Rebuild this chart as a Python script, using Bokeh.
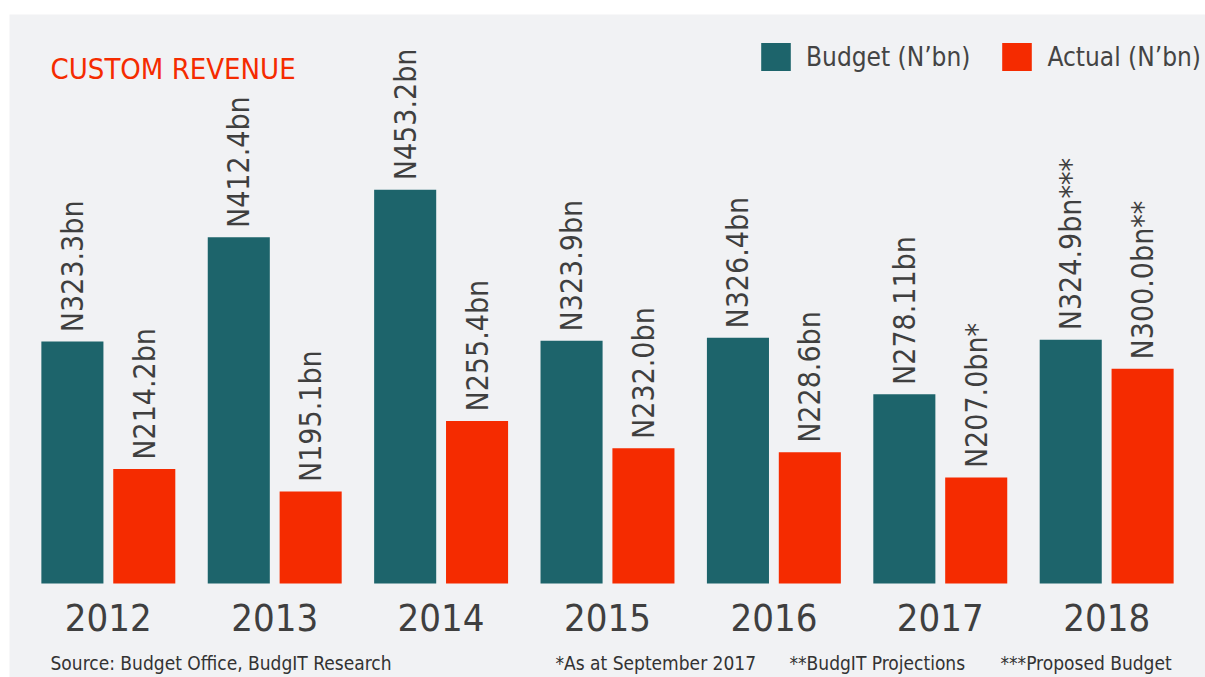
from bokeh.plotting import figure
from bokeh.models import ColumnDataSource, FactorRange, Range1d, Legend, LegendItem, Label
from bokeh.transform import dodge
from bokeh.core.properties import value
from bokeh.embed import file_html
from bokeh.resources import INLINE
import math

# ---- data ----
years = ["2012", "2013", "2014", "2015", "2016", "2017", "2018"]
budget = [323.3, 412.4, 453.2, 323.9, 326.4, 278.11, 324.9]
actual = [214.2, 195.1, 255.4, 232.0, 228.6, 207.0, 300.0]
budget_labels = ["N323.3bn", "N412.4bn", "N453.2bn", "N323.9bn", "N326.4bn", "N278.11bn", "N324.9bn***"]
actual_labels = ["N214.2bn", "N195.1bn", "N255.4bn", "N232.0bn", "N228.6bn", "N207.0bn*", "N300.0bn**"]
series_names = ["Budget (N\u2019bn)", "Actual (N\u2019bn)"]
title_text = "CUSTOM REVENUE"
footnotes = ["Source: Budget Office, BudgIT Research", "*As at September 2017",
             "**BudgIT Projections", "***Proposed Budget"]

FONT = "DejaVu Sans Condensed"
TEAL = "#1d646b"
RED = "#f52b00"
BG = "#f1f2f4"
TXT = "#3f3f3f"
BASE = 116.3  # value axis baseline of the bars

src = ColumnDataSource(dict(year=years, budget=budget, actual=actual,
                            blabel=budget_labels, alabel=actual_labels))

p = figure(width=1205, height=677,
           x_range=FactorRange(*years, range_padding=0.094, range_padding_units="absolute"),
           y_range=Range1d(35.9, 603.0),
           min_border_left=9, min_border_right=0, min_border_top=14, min_border_bottom=0,
           background_fill_color=BG, border_fill_color="white", outline_line_color=None,
           x_axis_location=None, y_axis_location=None,
           toolbar_location=None, output_backend="svg")

off = 0.216
w = 0.373
rb = p.vbar(x=dodge("year", -off, range=p.x_range), top="budget", bottom=BASE, width=w,
            source=src, fill_color=TEAL, line_color=None)
ra = p.vbar(x=dodge("year", off, range=p.x_range), top="actual", bottom=BASE, width=w,
            source=src, fill_color=RED, line_color=None)

for col, lab, dx in (("budget", "blabel", -off), ("actual", "alabel", off)):
    p.text(x=dodge("year", dx, range=p.x_range), y=dodge(col, 8, range=p.y_range), text=lab,
           source=src, angle=math.pi / 2, text_align="left", text_baseline="middle",
           text_font=value(FONT), text_font_size="30px", text_color=TXT)

# year labels under each pair of bars
p.text(x="year", y=BASE, text="year", source=src, y_offset=34,
       text_align="center", text_baseline="middle",
       text_font=value(FONT), text_font_size="38px", text_color=TXT)

p.xgrid.visible = False
p.ygrid.visible = False

legend = Legend(items=[LegendItem(label=series_names[0], renderers=[rb]),
                       LegendItem(label=series_names[1], renderers=[ra])],
                orientation="horizontal", location=(748, 603),
                glyph_width=37, glyph_height=35, label_standoff=12, spacing=28,
                padding=0, margin=0, border_line_color=None, background_fill_alpha=0,
                label_text_font=FONT, label_text_font_size="26px",
                label_text_color="#444444", label_height=35)
p.add_layout(legend)

p.add_layout(Label(x=41, y=609, x_units="screen", y_units="screen", text=title_text,
                   text_font=FONT, text_font_size="29px", text_color=RED,
                   text_baseline="alphabetic"))

for txt, xs in zip(footnotes, [41, 546, 780, 991]):
    p.add_layout(Label(x=xs, y=15, x_units="screen", y_units="screen", text=txt,
                       text_font=FONT, text_font_size="19px", text_color="#333333",
                       text_baseline="alphabetic"))

open("out.html", "w").write(file_html(p, INLINE))
